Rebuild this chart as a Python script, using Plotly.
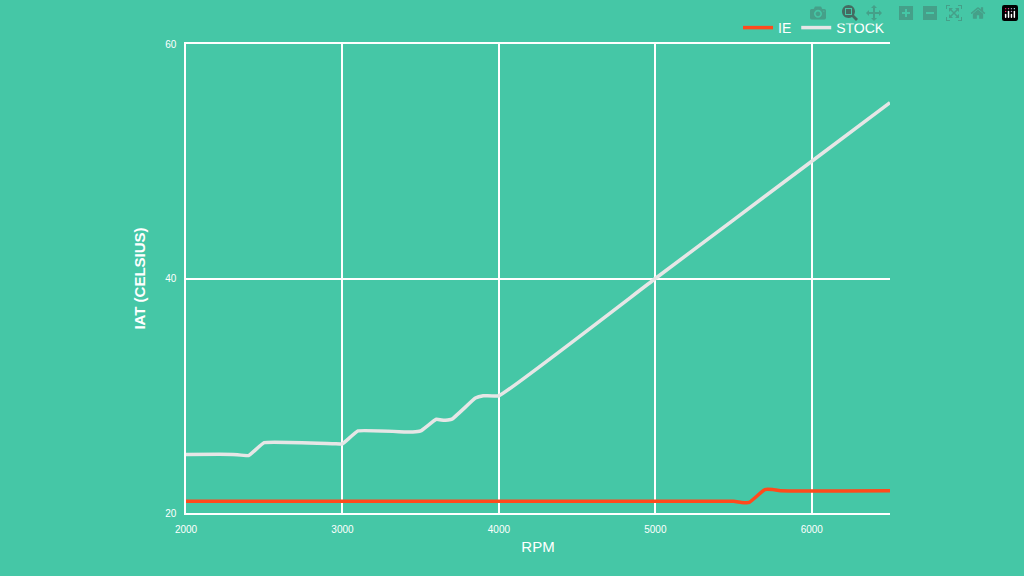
import plotly.graph_objects as go

stock_rpm = [2000, 2300, 2400, 2500, 2950, 3000, 3100, 3450, 3500, 3600, 3650, 3700, 3850, 3900, 4000, 5000, 6000, 6500]
stock_iat = [25, 25, 24.9, 26, 25.9, 25.9, 27, 26.9, 27, 28, 27.9, 28, 29.8, 30, 30, 40, 50, 55]
ie_rpm = [2000, 5500, 5550, 5600, 5700, 5750, 5800, 6500]
ie_iat = [21, 21, 20.9, 20.9, 22, 22, 21.9, 21.9]

fig = go.Figure()
fig.add_trace(go.Scatter(x=ie_rpm, y=ie_iat, name="IE", mode="lines",
                         line=dict(color="#FF4A1C", width=3.5, shape="spline", smoothing=0.3)))
fig.add_trace(go.Scatter(x=stock_rpm, y=stock_iat, name="STOCK", mode="lines",
                         line=dict(color="#E6E6E6", width=3.5, shape="spline", smoothing=0.3)))

axis = dict(showgrid=True, gridcolor="white", gridwidth=1.5, zeroline=False,
            showline=True, linecolor="white", linewidth=1.5,
            tickfont=dict(color="white", size=10), ticklabelstandoff=6)
fig.update_layout(
    width=1024, height=576,
    paper_bgcolor="#45C7A6", plot_bgcolor="#45C7A6",
    font=dict(family="Liberation Sans, Arial", color="white"),
    margin=dict(l=186, r=134, t=39, b=63),
    xaxis=dict(axis, range=[2000, 6500], tickvals=[2000, 3000, 4000, 5000, 6000], mirror=True,
               title=dict(text="RPM", font=dict(size=15, color="white"), standoff=8)),
    yaxis=dict(axis, range=[20, 60], tickvals=[20, 40, 60],
               title=dict(text="<b>IAT (CELSIUS)</b>", font=dict(size=15, color="white"), standoff=16)),
    legend=dict(orientation="h", x=1.0, xanchor="right", y=1.0, yanchor="bottom",
                font=dict(size=14, color="white"), bgcolor="rgba(0,0,0,0)", itemwidth=30),
    showlegend=True,
)
fig.write_html("out.html", post_script="document.body.style.margin='0';document.body.style.overflow='hidden';document.body.style.background='#45C7A6';")
